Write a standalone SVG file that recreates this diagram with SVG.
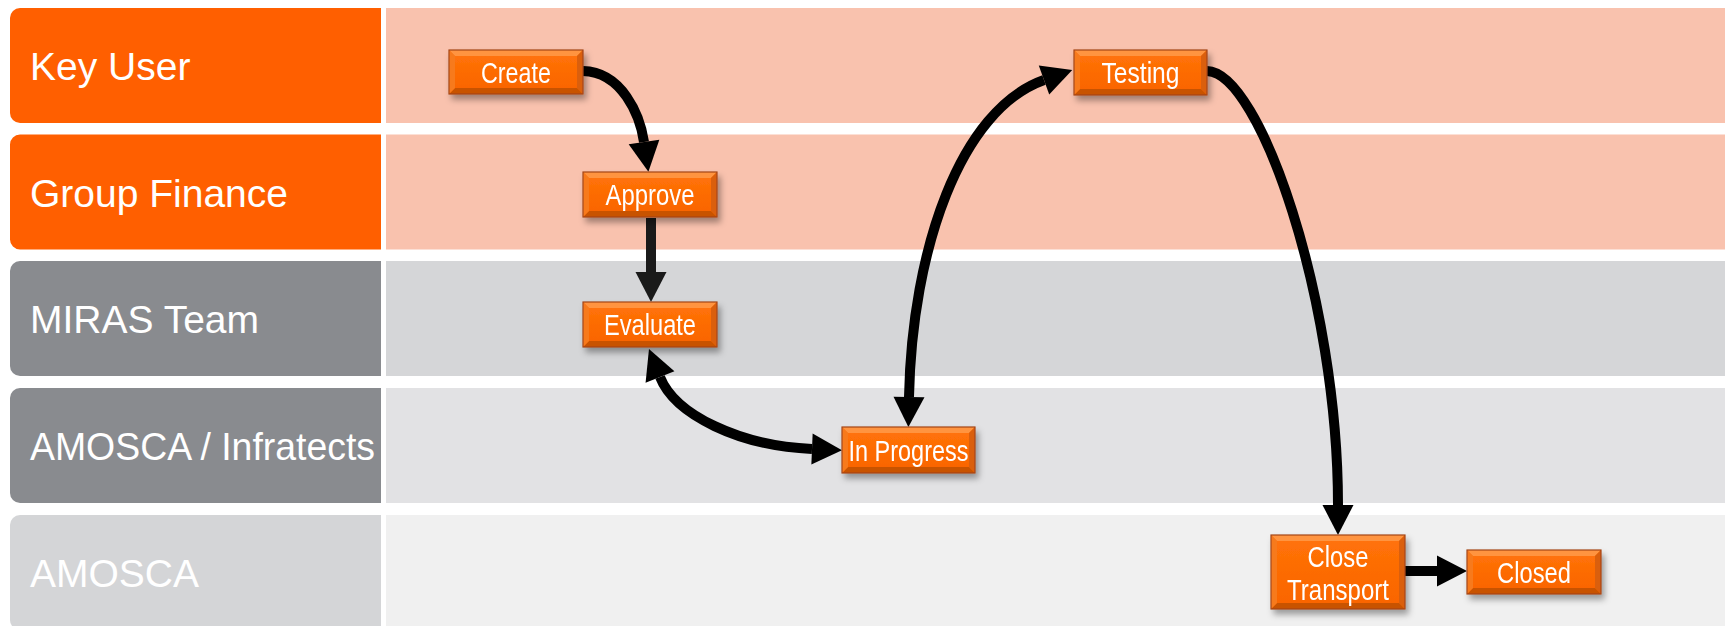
<svg xmlns="http://www.w3.org/2000/svg" width="1727" height="626" viewBox="0 0 1727 626">
<style>
.lbl{font-family:"Liberation Sans",Arial,sans-serif;font-size:39px;fill:#fff}
.nt{font-family:"Liberation Sans",Arial,sans-serif;font-size:29px;fill:#fff;text-anchor:middle}
.bt{fill:#FF9440}.bb{fill:#C85200}.bl{fill:#F77A1E}.br{fill:#DA5E08}
.face{fill:url(#faceG)}
.ol{fill:none;stroke:#A5461A;stroke-width:1.2}
.con{fill:none;stroke:#000;stroke-width:10}
</style>
<defs>
<linearGradient id="faceG" x1="0" y1="0" x2="0" y2="1">
<stop offset="0" stop-color="#FF7208"/><stop offset="1" stop-color="#FA6500"/>
</linearGradient>
<filter id="sh" x="-10%" y="-20%" width="130%" height="160%">
<feDropShadow dx="3" dy="5" stdDeviation="3" flood-color="#000" flood-opacity="0.35"/>
</filter>
<marker id="ah" viewBox="0 0 30 31" markerWidth="30" markerHeight="31" refX="0" refY="15.5" orient="auto-start-reverse" markerUnits="userSpaceOnUse" overflow="visible">
<path d="M0,0 L30,15.5 L0,31 z" fill="#000"/>
</marker>
<marker id="ahd" viewBox="0 0 30 31" markerWidth="30" markerHeight="31" refX="0" refY="15.5" orient="auto" markerUnits="userSpaceOnUse" overflow="visible">
<path d="M0,0 L30,15.5 L0,31 z" fill="#1A1A1A"/>
</marker>
</defs>
<rect width="1727" height="626" fill="#fff"/>
<g id="lanes">
<g id="lane-key-user">
<rect x="386" y="8" width="1339" height="115" fill="#F9C2AE"/>
<path d="M20,8 H381 V123 H20 A10,10 0 0 1 10,113 V18 A10,10 0 0 1 20,8 z" fill="#FF5F00"/>
<text class="lbl" x="30" y="80">Key User</text>
</g>
<g id="lane-group-finance">
<rect x="386" y="134.5" width="1339" height="115" fill="#F9C2AE"/>
<path d="M20,134.5 H381 V249.5 H20 A10,10 0 0 1 10,239.5 V144.5 A10,10 0 0 1 20,134.5 z" fill="#FF5F00"/>
<text class="lbl" x="30" y="206.5">Group Finance</text>
</g>
<g id="lane-miras">
<rect x="386" y="261" width="1339" height="115" fill="#D5D6D8"/>
<path d="M20,261 H381 V376 H20 A10,10 0 0 1 10,366 V271 A10,10 0 0 1 20,261 z" fill="#898B8F"/>
<text class="lbl" x="30" y="333">MIRAS Team</text>
</g>
<g id="lane-amosca-infratects">
<rect x="386" y="388" width="1339" height="115" fill="#E2E2E4"/>
<path d="M20,388 H381 V503 H20 A10,10 0 0 1 10,493 V398 A10,10 0 0 1 20,388 z" fill="#898B8F"/>
<text class="lbl" x="30" y="460" textLength="345" lengthAdjust="spacingAndGlyphs">AMOSCA / Infratects</text>
</g>
<g id="lane-amosca">
<rect x="386" y="515" width="1339" height="115" fill="#F0F0F0"/>
<path d="M20,515 H381 V630 H20 A10,10 0 0 1 10,620 V525 A10,10 0 0 1 20,515 z" fill="#D4D5D7"/>
<text class="lbl" x="30" y="587">AMOSCA</text>
</g>
</g>
<g id="connectors">
<path class="con" d="M583,71 C622,72 640,115 644,142" marker-end="url(#ah)"/>
<path class="con" d="M651,218 L651,272" style="stroke:#1A1A1A" marker-end="url(#ahd)"/>
<path class="con" d="M660,377 C675,415 740,446 812,449" marker-start="url(#ah)" marker-end="url(#ah)"/>
<path class="con" d="M909,397 C912,250 960,110 1044,80" marker-start="url(#ah)" marker-end="url(#ah)"/>
<path class="con" d="M1207,71 C1260,72 1338,300 1338,505" marker-end="url(#ah)"/>
<path class="con" d="M1405,571 L1437,571" marker-end="url(#ah)"/>
</g>
<g id="node-create" filter="url(#sh)" transform="translate(449,50)">
<rect class="face" x="0" y="0" width="134" height="44"/>
<polygon class="bt" points="0,0 134,0 128,6 6,6"/><polygon class="bb" points="0,44 134,44 128,38 6,38"/>
<polygon class="bl" points="0,0 6,6 6,38 0,44"/><polygon class="br" points="134,0 128,6 128,38 134,44"/>
<rect class="face" x="6" y="6" width="122" height="32"/>
<rect class="ol" x="0" y="0" width="134" height="44"/>
<text class="nt" x="67" y="32.5" textLength="70" lengthAdjust="spacingAndGlyphs">Create</text>
</g>
<g id="node-approve" filter="url(#sh)" transform="translate(583,172)">
<rect class="face" x="0" y="0" width="134" height="45"/>
<polygon class="bt" points="0,0 134,0 128,6 6,6"/><polygon class="bb" points="0,45 134,45 128,39 6,39"/>
<polygon class="bl" points="0,0 6,6 6,39 0,45"/><polygon class="br" points="134,0 128,6 128,39 134,45"/>
<rect class="face" x="6" y="6" width="122" height="33"/>
<rect class="ol" x="0" y="0" width="134" height="45"/>
<text class="nt" x="67" y="33" textLength="89" lengthAdjust="spacingAndGlyphs">Approve</text>
</g>
<g id="node-evaluate" filter="url(#sh)" transform="translate(583,302)">
<rect class="face" x="0" y="0" width="134" height="45"/>
<polygon class="bt" points="0,0 134,0 128,6 6,6"/><polygon class="bb" points="0,45 134,45 128,39 6,39"/>
<polygon class="bl" points="0,0 6,6 6,39 0,45"/><polygon class="br" points="134,0 128,6 128,39 134,45"/>
<rect class="face" x="6" y="6" width="122" height="33"/>
<rect class="ol" x="0" y="0" width="134" height="45"/>
<text class="nt" x="67" y="33" textLength="92" lengthAdjust="spacingAndGlyphs">Evaluate</text>
</g>
<g id="node-in-progress" filter="url(#sh)" transform="translate(842,427)">
<rect class="face" x="0" y="0" width="133" height="46"/>
<polygon class="bt" points="0,0 133,0 127,6 6,6"/><polygon class="bb" points="0,46 133,46 127,40 6,40"/>
<polygon class="bl" points="0,0 6,6 6,40 0,46"/><polygon class="br" points="133,0 127,6 127,40 133,46"/>
<rect class="face" x="6" y="6" width="121" height="34"/>
<rect class="ol" x="0" y="0" width="133" height="46"/>
<text class="nt" x="66.5" y="33.5" textLength="120" lengthAdjust="spacingAndGlyphs">In Progress</text>
</g>
<g id="node-testing" filter="url(#sh)" transform="translate(1074,50)">
<rect class="face" x="0" y="0" width="133" height="45"/>
<polygon class="bt" points="0,0 133,0 127,6 6,6"/><polygon class="bb" points="0,45 133,45 127,39 6,39"/>
<polygon class="bl" points="0,0 6,6 6,39 0,45"/><polygon class="br" points="133,0 127,6 127,39 133,45"/>
<rect class="face" x="6" y="6" width="121" height="33"/>
<rect class="ol" x="0" y="0" width="133" height="45"/>
<text class="nt" x="66.5" y="33" textLength="78" lengthAdjust="spacingAndGlyphs">Testing</text>
</g>
<g id="node-close-transport" filter="url(#sh)" transform="translate(1271,535)">
<rect class="face" x="0" y="0" width="134" height="74"/>
<polygon class="bt" points="0,0 134,0 128,6 6,6"/><polygon class="bb" points="0,74 134,74 128,68 6,68"/>
<polygon class="bl" points="0,0 6,6 6,68 0,74"/><polygon class="br" points="134,0 128,6 128,68 134,74"/>
<rect class="face" x="6" y="6" width="122" height="62"/>
<rect class="ol" x="0" y="0" width="134" height="74"/>
<text class="nt" x="67" y="32" textLength="61" lengthAdjust="spacingAndGlyphs">Close</text>
<text class="nt" x="67" y="65" textLength="102" lengthAdjust="spacingAndGlyphs">Transport</text>
</g>
<g id="node-closed" filter="url(#sh)" transform="translate(1467,550)">
<rect class="face" x="0" y="0" width="134" height="44"/>
<polygon class="bt" points="0,0 134,0 128,6 6,6"/><polygon class="bb" points="0,44 134,44 128,38 6,38"/>
<polygon class="bl" points="0,0 6,6 6,38 0,44"/><polygon class="br" points="134,0 128,6 128,38 134,44"/>
<rect class="face" x="6" y="6" width="122" height="32"/>
<rect class="ol" x="0" y="0" width="134" height="44"/>
<text class="nt" x="67" y="32.5" textLength="74" lengthAdjust="spacingAndGlyphs">Closed</text>
</g>
</svg>
